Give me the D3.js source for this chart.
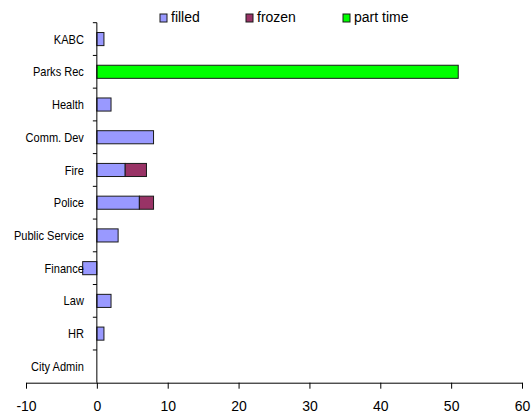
<!DOCTYPE html>
<html>
<head>
<meta charset="utf-8">
<script src="https://cdn.jsdelivr.net/npm/d3@7"></script>
<style>
  html, body { margin: 0; padding: 0; background: #fff; }
  svg { display: block; font-family: "Liberation Sans", Arial, sans-serif; }
</style>
</head>
<body>
<svg id="chart" width="531" height="414"></svg>
<script>
// Departments, top to bottom
const categories = ["KABC", "Parks Rec", "Health", "Comm. Dev", "Fire", "Police",
  "Public Service", "Finance", "Law", "HR", "City Admin"];
// Position changes per department
const filled   = [1, 0, 2, 8, 4, 6, 3, -2, 2, 1, 0];
const frozen   = [0, 0, 0, 0, 3, 2, 0, 0, 0, 0, 0];
const partTime = [0, 51, 0, 0, 0, 0, 0, 0, 0, 0, 0];
const seriesNames = ["filled", "frozen", "part time"];
const seriesColors = ["#9999ff", "#993366", "#00ff00"];
const xTicks = [-10, 0, 10, 20, 30, 40, 50, 60];

const svg = d3.select("#chart");

const x = d3.scaleLinear().domain([-10, 60]).range([26, 522]);
const y = d3.scaleBand().domain(categories).range([22.7, 382.7])
  .paddingInner(0.6).paddingOuter(0.3);

const rows = categories.map((c, i) => ({
  cat: c, "filled": filled[i], "frozen": frozen[i], "part time": partTime[i]
}));
const stacked = d3.stack().keys(seriesNames).offset(d3.stackOffsetDiverging)(rows);

// Bars
stacked.forEach((s, si) => {
  svg.append("g").selectAll("rect")
    .data(s.filter(d => d[1] !== d[0]))
    .join("rect")
    .attr("x", d => x(Math.min(d[0], d[1])))
    .attr("y", d => y(d.data.cat))
    .attr("width", d => Math.abs(x(d[1]) - x(d[0])))
    .attr("height", y.bandwidth())
    .attr("fill", seriesColors[si])
    .attr("stroke", "#1a1a1a")
    .attr("stroke-width", 1);
});

// X axis
const xAxisY = y.range()[1];
const xAxis = svg.append("g").attr("transform", `translate(0,${xAxisY})`)
  .call(d3.axisBottom(x).tickValues(xTicks).tickFormat(d => String(d))
    .tickSize(6).tickSizeOuter(0).tickPadding(12));
xAxis.select(".domain").attr("stroke", "#000");
xAxis.selectAll(".tick line").attr("stroke", "#000");
xAxis.selectAll(".tick text").attr("font-size", 14).attr("fill", "#000")
  .attr("font-family", "'Liberation Sans', Arial, sans-serif");

// Y axis line at zero with ticks at category boundaries
const step = y.step();
const y0 = y.range()[0];
const gy = svg.append("g");
gy.append("line")
  .attr("x1", x(0)).attr("x2", x(0))
  .attr("y1", y0).attr("y2", xAxisY)
  .attr("stroke", "#000");
gy.selectAll("line.tk")
  .data(d3.range(categories.length))
  .join("line").attr("class", "tk")
  .attr("x1", x(0) - 4).attr("x2", x(0))
  .attr("y1", i => y0 + i * step).attr("y2", i => y0 + i * step)
  .attr("stroke", "#000");

// Category labels (narrow)
gy.selectAll("text")
  .data(categories)
  .join("text")
  .attr("transform", d => `translate(${x(0) - 13},${y(d) + y.bandwidth() / 2}) scale(0.85,1)`)
  .attr("text-anchor", "end")
  .attr("dy", "0.35em")
  .attr("font-size", 13)
  .attr("fill", "#000")
  .text(d => d);

// Legend
const legendX = [160, 246, 343];
const lg = svg.append("g");
seriesNames.forEach((n, i) => {
  lg.append("rect")
    .attr("x", legendX[i]).attr("y", 14)
    .attr("width", 7).attr("height", 8)
    .attr("fill", seriesColors[i])
    .attr("stroke", "#1a1a1a");
  lg.append("text")
    .attr("x", legendX[i] + 11).attr("y", 21.5)
    .attr("font-size", 14)
    .attr("fill", "#000")
    .text(n);
});
</script>
</body>
</html>
